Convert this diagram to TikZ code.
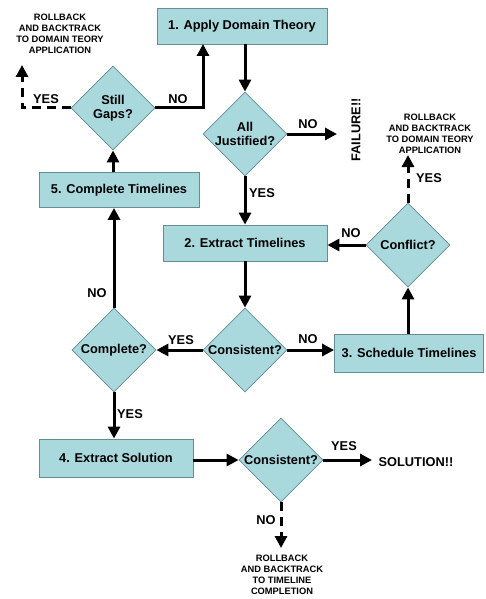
\documentclass[tikz,border=0pt]{standalone}
\usepackage{fontspec}
\setmainfont{Liberation Sans}
\usetikzlibrary{shapes.geometric,arrows.meta}
\definecolor{boxfill}{RGB}{169,217,221}
\definecolor{boxline}{RGB}{100,140,146}
\tikzset{
  every node/.style={font=\fontsize{12.8}{14}\selectfont\bfseries},
  stepbox/.style={draw=boxline, line width=0.8pt, fill=boxfill, rectangle, inner sep=0pt},
  dia/.style={draw=boxline, line width=0.8pt, fill=boxfill, diamond, inner sep=0pt, minimum width=84pt, minimum height=84pt},
  dlab/.style={align=center, font=\fontsize{12.8}{14.5}\selectfont\bfseries},
  flow/.style={line width=3pt, -{Triangle[length=12pt,width=12pt]}},
  dflow/.style={flow, dash pattern=on 9pt off 6pt},
  small/.style={align=center, font=\fontsize{9.3}{11}\selectfont\bfseries},
}
\begin{document}
\begin{tikzpicture}[x=1pt,y=-1pt]
\useasboundingbox (0,0) rectangle (485,599);
% boxes
\node[stepbox, minimum width=170pt, minimum height=36pt] (b1) at (242,26) {1. Apply Domain Theory};
\node[stepbox, minimum width=164pt, minimum height=36pt] (b2) at (245,243) {2. Extract Timelines};
\node[stepbox, minimum width=149pt, minimum height=38pt] (b3) at (409,353) {3. Schedule Timelines};
\node[stepbox, minimum width=154pt, minimum height=38pt] (b4) at (116,458) {4. Extract Solution};
\node[stepbox, minimum width=160pt, minimum height=35pt] (b5) at (119,190) {5. Complete Timelines};
% diamonds
\node[dia, label={[dlab]center:Still\\Gaps?}] (gaps) at (113,108) {};
\node[dia, label={[dlab]center:All\\Justified?}] (just) at (245,134) {};
\node[dia, label={[dlab]center:Conflict?}] (conf) at (408,245) {};
\node[dia, label={[dlab]center:Consistent?}] (cons) at (245,350) {};
\node[dia, label={[dlab]center:Complete?}] (comp) at (114,350) {};
\node[dia, label={[dlab]center:Consistent?}] (cons2) at (281,460) {};
% free texts
\node[small] (rb1) at (60,34) {ROLLBACK\\AND BACKTRACK\\TO DOMAIN TEORY\\APPLICATION};
\node[small] (rb2) at (430,134) {ROLLBACK\\AND BACKTRACK\\TO DOMAIN TEORY\\APPLICATION};
\node[small] (rb3) at (282,575) {ROLLBACK\\AND BACKTRACK\\TO TIMELINE\\COMPLETION};
\node[rotate=90] (fail) at (356,130) {FAILURE!!};
\node (sol) at (416,462) {SOLUTION!!};
% coordinates
\coordinate (g1) at (22,108);
\coordinate (g2) at (22,65);
\coordinate (g3) at (203,108);
\coordinate (g4) at (203,44);
\coordinate (f1) at (337,134);
\coordinate (c1) at (408,155);
\coordinate (s1) at (281,548);
\coordinate (s2) at (372,460);
% connectors
\draw[flow] (b1.south -| just.north) -- (just.north);
\draw[flow] (just.south) -- (just.south |- b2.north);
\draw[flow] (just.east) -- (f1);
\draw[flow] (b2.south -| cons.north) -- (cons.north);
\draw[flow] (cons.east) -- (cons.east -| b3.west);
\draw[flow] (b3.north -| conf.south) -- (conf.south);
\draw[flow] (conf.west) -- (conf.west -| b2.east);
\draw[dflow] (conf.north) -- (c1);
\draw[flow] (cons.west) -- (comp.east);
\draw[flow] (comp.north) -- (comp.north |- b5.south);
\draw[flow] (comp.south) -- (comp.south |- b4.north);
\draw[flow] (b5.north -| gaps.south) -- (gaps.south);
\draw[flow, line join=miter] (gaps.east) -- (g3) -- (g4);
\draw[dflow] (gaps.west) -- (g1) -- (g2);
\draw[flow] (b4.east |- cons2.west) -- (cons2.west);
\draw[flow] (cons2.east) -- (s2);
\draw[dflow] (cons2.south) -- (s1);
% labels
\node (l1) at (178,99) {NO};
\node (l2) at (46,99) {YES};
\node (l3) at (308,124) {NO};
\node (l4) at (262,193) {YES};
\node (l5) at (429,178) {YES};
\node (l6) at (351,233) {NO};
\node (l7) at (308,339) {NO};
\node (l8) at (181,340) {YES};
\node (l9) at (97,293) {NO};
\node (l10) at (130,414) {YES};
\node (l11) at (344,446) {YES};
\node (l12) at (266,520) {NO};
\end{tikzpicture}
\end{document}
